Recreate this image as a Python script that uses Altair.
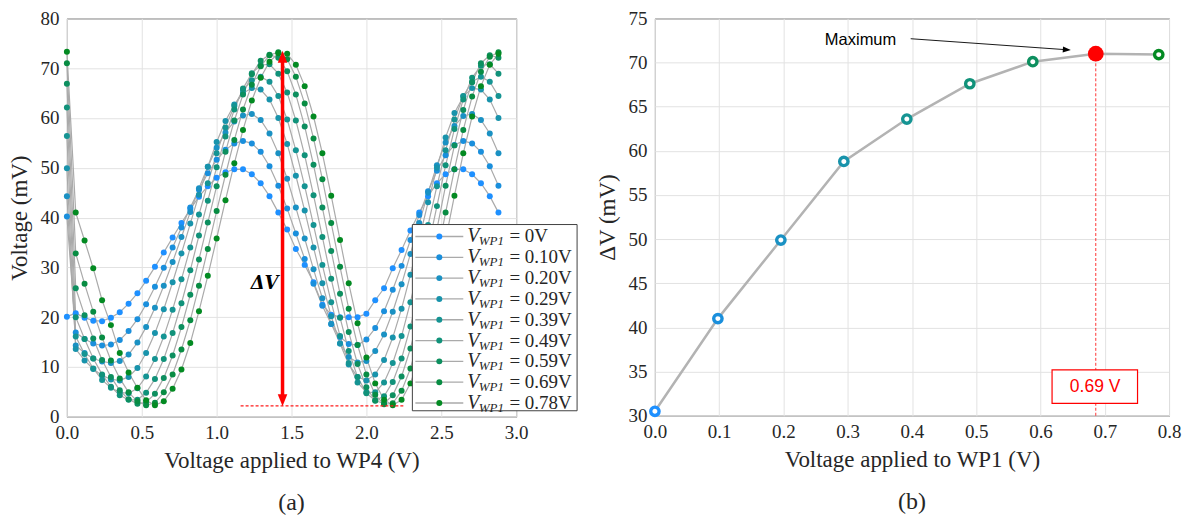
import altair as alt
import pandas as pd

# ---------------- data: panel (a) ----------------
WP4 = [0.000, 0.059, 0.118, 0.176, 0.235, 0.294, 0.353, 0.412, 0.471, 0.529,
       0.588, 0.647, 0.706, 0.765, 0.824, 0.882, 0.941, 1.000, 1.059, 1.118,
       1.176, 1.235, 1.294, 1.353, 1.412, 1.471, 1.529, 1.588, 1.647, 1.706,
       1.765, 1.824, 1.882, 1.941, 2.000, 2.059, 2.118, 2.176, 2.235, 2.294,
       2.353, 2.412, 2.471, 2.529, 2.588, 2.647, 2.706, 2.765, 2.824, 2.882]

V_000 = [20.1, 20.8, 19.9, 19.3, 19.2, 19.9, 21.0, 22.7, 24.8, 27.3,
         30.1, 33.0, 36.0, 38.9, 41.7, 44.2, 46.3, 48.0, 49.1, 49.7,
         49.7, 48.7, 46.9, 44.3, 41.0, 37.6, 33.7, 30.5, 27.0, 22.5,
         20.5, 20.0, 20.0, 20.0, 20.7, 23.4, 25.8, 29.8, 33.5, 37.4,
         41.0, 44.3, 46.9, 48.7, 49.7, 49.7, 48.7, 46.9, 44.3, 41.0]
V_010 = [40.2, 16.9, 15.6, 14.7, 14.3, 14.5, 15.4, 17.2, 19.6, 22.6,
         26.1, 29.9, 34.0, 38.0, 42.0, 45.6, 48.9, 51.6, 53.6, 54.9,
         55.4, 54.9, 53.2, 50.3, 46.4, 41.8, 36.8, 31.7, 26.7, 22.3,
         18.6, 16.0, 14.6, 14.4, 15.5, 17.8, 21.2, 25.5, 30.3, 35.5,
         40.5, 45.3, 49.4, 52.5, 54.6, 55.4, 54.9, 53.2, 50.3, 46.4]
V_020 = [44.3, 14.3, 12.8, 11.7, 11.1, 10.8, 11.2, 12.5, 14.9, 18.0,
         21.9, 26.3, 31.1, 36.1, 41.1, 45.9, 50.2, 54.0, 57.1, 59.3,
         60.5, 60.8, 59.6, 56.9, 52.9, 47.8, 42.0, 35.8, 29.6, 23.8,
         18.7, 14.7, 12.0, 10.9, 11.2, 13.2, 16.5, 21.1, 26.6, 32.7,
         38.9, 45.0, 50.5, 55.1, 58.4, 60.4, 60.8, 59.6, 56.9, 52.9]
V_029 = [49.9, 13.6, 11.3, 9.6, 8.3, 7.5, 7.3, 8.0, 9.8, 12.8,
         16.8, 21.6, 27.0, 32.8, 38.8, 44.6, 50.2, 55.2, 59.4, 62.7,
         65.0, 66.0, 65.7, 63.7, 60.0, 54.8, 48.4, 41.4, 34.0, 26.8,
         20.2, 14.7, 10.5, 8.0, 7.3, 8.5, 11.4, 15.9, 21.7, 28.5,
         35.7, 43.1, 50.0, 56.1, 61.0, 64.3, 66.0, 65.7, 63.7, 60.0]
V_039 = [56.4, 16.1, 12.6, 9.7, 7.4, 5.8, 4.9, 4.7, 5.7, 8.1,
         11.6, 16.1, 21.5, 27.6, 34.0, 40.6, 46.9, 52.9, 58.1, 62.4,
         65.6, 67.6, 68.3, 67.3, 64.4, 59.7, 53.5, 46.3, 38.5, 30.5,
         23.0, 16.2, 10.8, 6.9, 4.9, 4.9, 6.9, 10.8, 16.2, 23.0,
         30.5, 38.5, 46.3, 53.5, 59.7, 64.4, 67.3, 68.3, 67.3, 64.4]
V_049 = [62.1, 20.0, 15.6, 11.7, 8.5, 6.0, 4.3, 3.4, 3.4, 4.8,
         7.6, 11.6, 16.8, 22.8, 29.4, 36.4, 43.4, 50.1, 56.3, 61.7,
         65.9, 69.0, 70.6, 70.8, 68.9, 65.1, 59.5, 52.5, 44.5, 36.1,
         27.7, 19.9, 13.2, 8.0, 4.7, 3.3, 4.1, 7.0, 11.7, 18.1,
         25.6, 33.9, 42.3, 50.5, 57.8, 63.7, 68.1, 70.5, 70.8, 68.9]
V_059 = [66.9, 25.8, 20.4, 15.7, 11.4, 8.0, 5.3, 3.5, 2.6, 2.9,
         4.6, 7.8, 12.3, 18.0, 24.5, 31.6, 39.0, 46.3, 53.2, 59.5,
         64.7, 68.8, 71.5, 72.7, 72.1, 69.4, 64.7, 58.3, 50.6, 42.0,
         33.3, 24.7, 17.0, 10.6, 5.9, 3.2, 2.7, 4.3, 8.1, 13.7,
         20.8, 28.9, 37.7, 46.4, 54.5, 61.6, 67.2, 71.0, 72.6, 72.1]
V_069 = [71.0, 32.8, 26.7, 21.1, 15.9, 11.3, 7.7, 4.9, 3.1, 2.3,
         2.8, 4.9, 8.5, 13.5, 19.4, 26.3, 33.7, 41.3, 48.6, 55.6,
         61.7, 66.7, 70.4, 72.6, 73.2, 71.8, 68.3, 62.9, 55.9, 47.7,
         38.9, 30.1, 21.7, 14.4, 8.5, 4.4, 2.5, 2.7, 5.2, 9.7,
         16.0, 23.6, 32.1, 41.0, 49.7, 57.6, 64.3, 69.3, 72.3, 73.2]
V_078 = [73.3, 41.0, 35.4, 29.8, 23.4, 18.4, 12.8, 8.9, 5.8, 3.3,
         2.3, 3.1, 5.6, 9.5, 14.8, 21.2, 28.3, 35.8, 43.5, 50.9,
         57.6, 63.5, 68.1, 71.3, 73.0, 72.9, 70.7, 66.4, 60.3, 52.9,
         44.4, 35.5, 26.8, 18.8, 11.9, 6.7, 3.4, 2.3, 3.4, 6.7,
         11.9, 18.8, 26.8, 35.5, 44.4, 52.9, 60.3, 66.4, 70.7, 72.9]

SERIES = ["0V", "0.10V", "0.20V", "0.29V", "0.39V", "0.49V", "0.59V", "0.69V", "0.78V"]
CURVES = [V_000, V_010, V_020, V_029, V_039, V_049, V_059, V_069, V_078]
COLORS = ["#1e90ff", "#1a8fdc", "#1a91c3", "#1893ab", "#159493",
          "#11927a", "#0d8f5f", "#088c43", "#038a22"]

# ---------------- data: panel (b) ----------------
WP1 = [0.0, 0.098, 0.196, 0.294, 0.392, 0.490, 0.588, 0.686, 0.784]
DELTA_V = [30.5, 41.0, 49.9, 58.8, 63.6, 67.6, 70.1, 71.0, 70.9]
MAX_IDX = 7

# ---------------- styling ----------------
SERIF = "Liberation Serif"
SANS = "Liberation Sans"
INK = "#262626"
GRID = "#e2e2e2"

rows = []
for name, vals in zip(SERIES, CURVES):
    for x, v in zip(WP4, vals):
        rows.append({"series": name, "x": x, "y": v})
df_a = pd.DataFrame(rows)

color_a = alt.Color("series:N", scale=alt.Scale(domain=SERIES, range=COLORS), legend=None)
xa = alt.X("x:Q", scale=alt.Scale(domain=[0, 3], nice=False),
           axis=alt.Axis(values=[0, 0.5, 1, 1.5, 2, 2.5, 3], format=".1f",
                         title="Voltage applied to WP4 (V)"))
ya = alt.Y("y:Q", scale=alt.Scale(domain=[0, 80], nice=False),
           axis=alt.Axis(values=list(range(0, 81, 10)), title="Voltage (mV)"))

lines_a = alt.Chart(df_a).mark_line(color="#aaaaaa", strokeWidth=1.2).encode(
    x=xa, y=ya, detail="series:N")
points_a = alt.Chart(df_a).mark_circle(size=36, opacity=1).encode(
    x="x:Q", y="y:Q", color=color_a)

# red double arrow for Delta V
ARROW_X = 1.44
ARROW_TOP = 73.5
ARROW_BOT = 2.1
HEAD = 1.2
arrow_df = pd.DataFrame({"x": [ARROW_X], "y1": [ARROW_BOT + HEAD], "y2": [ARROW_TOP - HEAD]})
shaft = alt.Chart(arrow_df).mark_rule(color="#ff0000", strokeWidth=3.5).encode(
    x="x:Q", y="y1:Q", y2="y2:Q")
head_up = alt.Chart(pd.DataFrame({"x": [ARROW_X], "y": [ARROW_TOP - HEAD]})).mark_point(
    shape="M0,-1L-0.8,1L0.8,1Z", filled=True, color="#ff0000", size=144, opacity=1).encode(
    x="x:Q", y="y:Q")
head_dn = alt.Chart(pd.DataFrame({"x": [ARROW_X], "y": [ARROW_BOT + HEAD]})).mark_point(
    shape="M0,1L-0.8,-1L0.8,-1Z", filled=True, color="#ff0000", size=144, opacity=1).encode(
    x="x:Q", y="y:Q")
base_line = alt.Chart(pd.DataFrame({"x": [1.16], "x2": [2.25], "y": [2.2]})).mark_rule(
    color="#ff1a1a", strokeWidth=1.3, strokeDash=[3, 2]).encode(x="x:Q", x2="x2:Q", y="y:Q")
dv_text = alt.Chart(pd.DataFrame({"x": [1.32], "y": [26.6], "t": ["ΔV"]})).mark_text(
    font="DejaVu Serif", fontStyle="italic", fontWeight="bold", fontSize=18, color="black").encode(
    x="x:Q", y="y:Q", text="t:N")

# legend (drawn in data units, reaching outside the axes like the original)
LEG_X0, LEG_X1 = 2.307, 3.407
LEG_Y0, LEG_Y1 = 38.6, 1.2
ROW_TOP, ROW_STEP = 36.2, 4.18
leg_rows = pd.DataFrame({
    "series": SERIES,
    "label": ["= " + s for s in SERIES],
    "y": [ROW_TOP - i * ROW_STEP for i in range(len(SERIES))],
})
leg_rows["lx0"] = 2.327
leg_rows["lx1"] = 2.647
leg_rows["dx"] = 2.487
leg_rows["vx"] = 2.673
leg_rows["sx"] = 2.750
leg_rows["tx"] = 2.955
leg_rows["v"] = "V"
leg_rows["sub"] = "WP1"

leg_box = alt.Chart(pd.DataFrame({"x": [LEG_X0], "x2": [LEG_X1], "y": [LEG_Y0], "y2": [LEG_Y1]})).mark_rect(
    fill="white", stroke="#404040", strokeWidth=1).encode(x="x:Q", x2="x2:Q", y="y:Q", y2="y2:Q")
leg_line = alt.Chart(leg_rows).mark_rule(color="#aaaaaa", strokeWidth=1.3).encode(
    x="lx0:Q", x2="lx1:Q", y="y:Q")
leg_dot = alt.Chart(leg_rows).mark_circle(size=36, opacity=1).encode(
    x="dx:Q", y="y:Q", color=color_a)
leg_v = alt.Chart(leg_rows).mark_text(align="left", font=SERIF, fontStyle="italic",
                                      fontSize=20, color=INK).encode(
    x="vx:Q", y="y:Q", text="v:N")
leg_sub = alt.Chart(leg_rows).mark_text(align="left", font=SERIF, fontStyle="italic",
                                        fontSize=13, dy=5, color=INK).encode(
    x="sx:Q", y="y:Q", text="sub:N")
leg_txt = alt.Chart(leg_rows).mark_text(align="left", font=SERIF, fontSize=19, color=INK).encode(
    x="tx:Q", y="y:Q", text="label:N")

CAPTION = dict(orient="bottom", font=SERIF, fontSize=24, fontWeight="normal", color=INK, offset=18)

panel_a = alt.layer(
    lines_a, points_a, base_line, shaft, head_up, head_dn, dv_text,
    leg_box, leg_line, leg_dot, leg_v, leg_sub, leg_txt
).properties(
    width=450, height=399,
    title=alt.TitleParams("(a)", **CAPTION)
)

# ---------------- panel (b) ----------------
df_b = pd.DataFrame({"x": WP1, "y": DELTA_V, "series": SERIES})
df_b["base"] = 30.0
xb = alt.X("x:Q", scale=alt.Scale(domain=[0, 0.8], nice=False),
           axis=alt.Axis(values=[0, 0.1, 0.2, 0.3, 0.4, 0.5, 0.6, 0.7, 0.8], format=".1f",
                         title="Voltage applied to WP1 (V)"))
yb = alt.Y("y:Q", scale=alt.Scale(domain=[30, 75], nice=False),
           axis=alt.Axis(values=list(range(30, 76, 5)), title="ΔV (mV)"))

line_b = alt.Chart(df_b).mark_line(color="#b3b3b3", strokeWidth=2.5).encode(x=xb, y=yb)
rings_b = alt.Chart(df_b[df_b.index != MAX_IDX]).mark_point(
    filled=False, fill="white", strokeWidth=3.4, size=70, opacity=1).encode(
    x="x:Q", y="y:Q", color=color_a)
max_b = alt.Chart(df_b[df_b.index == MAX_IDX]).mark_circle(color="#ff0000", size=250, opacity=1).encode(
    x="x:Q", y="y:Q")
drop_b = alt.Chart(df_b[df_b.index == MAX_IDX]).mark_rule(
    color="#ff0000", strokeWidth=0.8, strokeDash=[3, 2]).encode(x="x:Q", y="base:Q", y2="y:Q")

ann = pd.DataFrame({"x": [0.320], "y": [72.6], "t": ["Maximum"]})
max_text = alt.Chart(ann).mark_text(font=SANS, fontSize=16.5, color="black").encode(
    x="x:Q", y="y:Q", text="t:N")
ARR_X0, ARR_Y0, ARR_X1, ARR_Y1 = 0.398, 72.7, 0.641, 71.45
arr_line = alt.Chart(pd.DataFrame({"x": [ARR_X0], "y": [ARR_Y0], "x2": [ARR_X1], "y2": [ARR_Y1]})).mark_rule(
    color="black", strokeWidth=0.9).encode(x="x:Q", y="y:Q", x2="x2:Q", y2="y2:Q")
arr_head = alt.Chart(pd.DataFrame({"x": [ARR_X1], "y": [ARR_Y1]})).mark_point(
    shape="M1,0L-1,-0.75L-1,0.75Z", filled=True, color="black", size=64, angle=4, opacity=1).encode(
    x="x:Q", y="y:Q")

box_df = pd.DataFrame({"x": [0.618], "x2": [0.751], "y": [35.2], "y2": [31.4],
                       "tx": [0.685], "ty": [33.3], "t": ["0.69 V"]})
val_box = alt.Chart(box_df).mark_rect(fill="white", stroke="#ff0000", strokeWidth=1.2).encode(
    x="x:Q", x2="x2:Q", y="y:Q", y2="y2:Q")
val_text = alt.Chart(box_df).mark_text(font=SANS, fontSize=17.5, color="#ff0000").encode(
    x="tx:Q", y="ty:Q", text="t:N")

panel_b = alt.layer(
    line_b, drop_b, rings_b, max_b, arr_line, arr_head, max_text, val_box, val_text
).properties(
    width=515, height=398,
    title=alt.TitleParams("(b)", **CAPTION)
)

chart = alt.hconcat(panel_a, panel_b, spacing=17).configure_view(
    stroke="#3a3a3a", strokeWidth=1
).configure_axis(
    labelFont=SERIF, labelFontSize=19, labelColor=INK, labelFlush=False,
    titleFont=SERIF, titleFontSize=23, titleFontWeight="normal", titleColor=INK,
    gridColor=GRID, gridWidth=1, domain=False, ticks=False,
    labelPadding=7, titlePadding=7
).configure_axisY(labelPadding=8, titlePadding=8).properties(
    padding={"left": 0, "top": 0, "right": 5, "bottom": 0},
    background="white"
)

chart.save("out.html", embed_options={"renderer": "svg", "actions": False})
